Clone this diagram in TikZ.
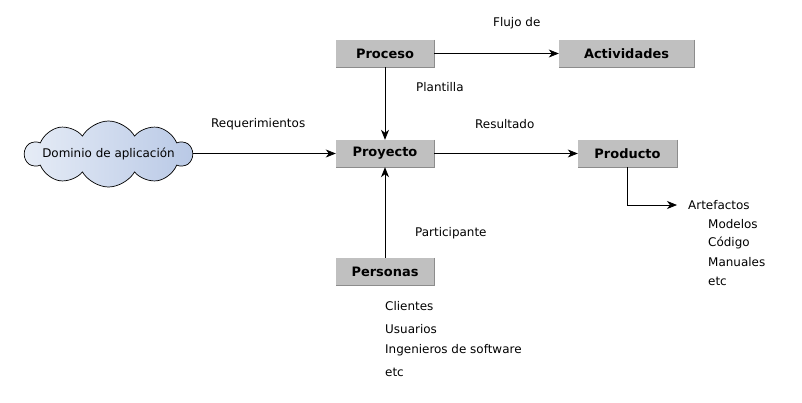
\documentclass[tikz,border=0pt]{standalone}
\usepackage{fontspec}
\setmainfont{DejaVu Sans}
\usetikzlibrary{arrows.meta,shapes.symbols}
\definecolor{boxfill}{HTML}{C0C0C0}
\definecolor{boxedge}{HTML}{8C8C8C}
\definecolor{cloudleft}{HTML}{E6ECF6}
\definecolor{cloudright}{HTML}{B9C9E6}
\tikzset{
  entidad/.style={fill=boxfill, minimum width=98bp, minimum height=27bp, inner sep=0pt,
    font=\fontsize{13}{15}\selectfont\bfseries},
  etiqueta/.style={inner sep=0pt, anchor=west, font=\fontsize{12}{14}\selectfont},
  flecha/.style={-{Stealth[length=10bp,width=8bp,inset=3bp]}, line width=0.8bp}
}
\begin{document}
\begin{tikzpicture}[x=1bp,y=-1bp]
\useasboundingbox (0,0) rectangle (802,402);
\node[entidad] (proceso) at (385, 53.5) {Proceso};
\node[entidad, minimum width=135bp] (actividades) at (626.5, 53.5) {Actividades};
\node[entidad] (proyecto) at (385, 153.5) {Proyecto};
\node[entidad, minimum width=99bp] (producto) at (627.5, 153.5) {Producto};
\node[entidad] (personas) at (385, 271.5) {Personas};
\foreach \n in {proceso, actividades, proyecto, producto, personas}
  \draw[boxedge, line width=0.8bp] (\n.north east) -- (\n.south east) -- (\n.south west);
\node[cloud, cloud puffs=10, cloud puff arc=120, cloud ignores aspect, draw=black, line width=0.7bp,
  left color=cloudleft, right color=cloudright, minimum width=167bp, minimum height=66bp,
  inner sep=0pt, label={[font=\fontsize{12}{14}\selectfont]center:Dominio de aplicación}]
  (dominio) at (108.5, 154) {};
\coordinate (codo) at (627.5, 205);
\coordinate (artefactos) at (677, 205);
\draw[flecha] (proceso) -- (actividades);
\draw[flecha] (proceso) -- (proyecto);
\draw[flecha] (dominio.east |- proyecto) -- (proyecto);
\draw[flecha] (proyecto) -- (producto);
\draw[flecha] (personas) -- (proyecto);
\draw[flecha] (producto.south) -- (codo) -- (artefactos);
\node[etiqueta] (flujo) at (493, 23) {Flujo de};
\node[etiqueta] (plantilla) at (416, 87) {Plantilla};
\node[etiqueta] (requerimientos) at (211, 124) {Requerimientos};
\node[etiqueta] (resultado) at (475, 124) {Resultado};
\node[etiqueta] (participante) at (415, 233) {Participante};
\node[etiqueta] (artef) at (688, 205) {Artefactos};
\node[etiqueta] (modelos) at (708, 224) {Modelos};
\node[etiqueta] (codigo) at (708, 243) {Código};
\node[etiqueta] (manuales) at (708, 262) {Manuales};
\node[etiqueta] (etca) at (708, 281) {etc};
\node[etiqueta] (clientes) at (385, 306) {Clientes};
\node[etiqueta] (usuarios) at (385, 329) {Usuarios};
\node[etiqueta] (ingenieros) at (385, 350) {Ingenieros de software};
\node[etiqueta] (etcp) at (385, 372) {etc};
\end{tikzpicture}
\end{document}
